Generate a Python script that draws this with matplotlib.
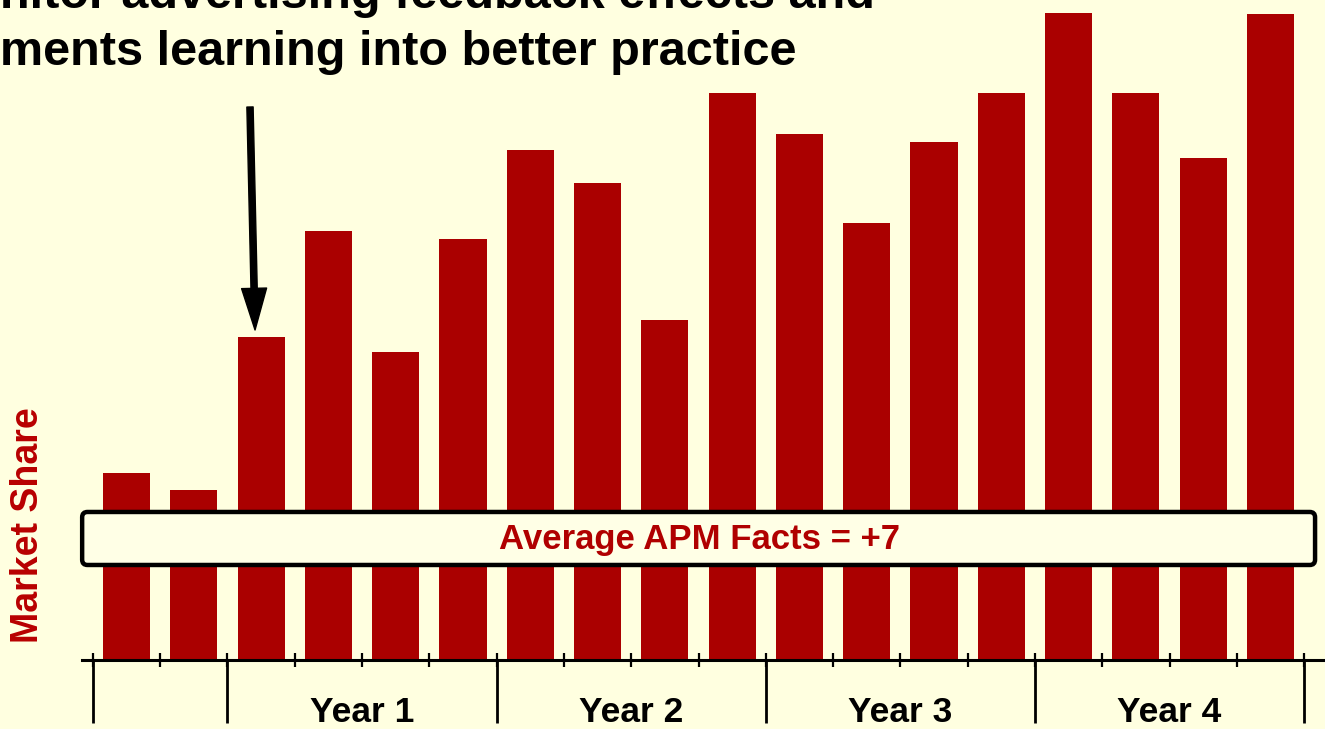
import matplotlib.pyplot as plt
from matplotlib.patches import FancyBboxPatch

plt.rcParams['font.family'] = ['Liberation Sans', 'DejaVu Sans']

# market share per period (two pre-period bars, then four years of quarters)
shares = [18.7, 17.0, 32.3, 42.9, 30.8, 42.1,
          51.0, 47.7, 34.0, 56.7,
          52.6, 43.7, 51.8, 56.7,
          64.7, 56.7, 50.2, 64.6]
years = ['Year 1', 'Year 2', 'Year 3', 'Year 4']
year_edges = [-0.5, 1.5, 5.5, 9.5, 13.5, 17.5]
headline = ['nitor advertising feedback effects and',
            'ments learning into better practice']
apm_note = 'Average APM Facts = +7'

bg = '#FFFFE0'
red = '#AA0000'

fig = plt.figure(figsize=(13.25, 7.29), dpi=100, facecolor=bg)
ax = fig.add_axes([0, 0, 1, 1])
ax.set_facecolor(bg)

x = list(range(len(shares)))
ax.bar(x, shares, width=0.7, color=red, zorder=2)

ax.set_xlim(-1.88, 17.81)
ax.set_ylim(-6.9, 66.0)

for s in ['top', 'left', 'right']:
    ax.spines[s].set_visible(False)
ax.spines['bottom'].set_position(('data', 0))
ax.spines['bottom'].set_bounds(-0.66, 17.81)
ax.spines['bottom'].set_linewidth(2.2)
ax.spines['bottom'].set_zorder(3)

ax.set_yticks([])
ax.set_xticks(year_edges)
ax.set_xticks([i - 0.5 for i in range(len(shares) + 1)], minor=True)
ax.xaxis.remove_overlapping_locs = False
ax.tick_params(axis='x', which='major', direction='out', length=45, width=2, labelbottom=False)
ax.tick_params(axis='x', which='minor', direction='inout', length=9.5, width=1.6)

for k, name in enumerate(years):
    mid = (year_edges[k + 1] + year_edges[k + 2]) / 2
    ax.text(mid, -5.3, name, ha='center', va='center', fontsize=25.5,
            fontweight='bold', color='black')

ax.text(0.021, 0.28, 'Market Share', transform=ax.transAxes, rotation=90,
        ha='center', va='center', fontsize=27, fontweight='bold', color='#B80000')

# summary box across the bars
box = FancyBboxPatch((0.062, 0.225), 0.9305, 0.0727, transform=ax.transAxes,
                     boxstyle='round,pad=0,rounding_size=0.004',
                     mutation_aspect=1325 / 729,
                     facecolor='#FFFFE6', edgecolor='black', linewidth=3.2, zorder=4)
ax.add_patch(box)
ax.text(0.528, 0.26, apm_note, transform=ax.transAxes, ha='center', va='center',
        fontsize=25, fontweight='bold', color='#B00000', zorder=5)

# arrow pointing at the first quarter of year 1
ax.annotate('', xy=(1.91, 33.0), xytext=(1.835, 55.3),
            arrowprops=dict(facecolor='black', edgecolor='black', width=4.5,
                            headwidth=18, headlength=30, shrink=0), zorder=5)

fig.text(0.0, 1 - 8 / 729, headline[0], ha='left', va='baseline',
         fontsize=35, fontweight='bold', color='black')
fig.text(0.0, 1 - 65 / 729, headline[1], ha='left', va='baseline',
         fontsize=35, fontweight='bold', color='black')

fig.savefig('out.png', dpi=100, facecolor=bg)
